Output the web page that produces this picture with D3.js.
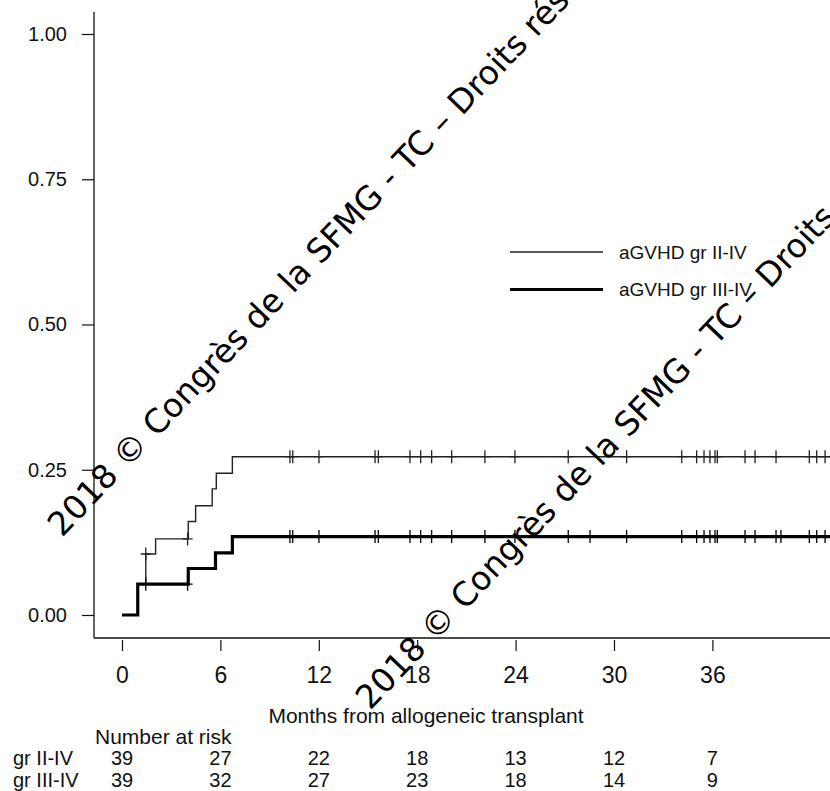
<!DOCTYPE html>
<html><head><meta charset="utf-8">
<script src="https://cdn.jsdelivr.net/npm/d3@7/dist/d3.min.js"></script>
<style>
html,body{margin:0;padding:0;background:#fff;}
svg{display:block;}
text{font-family:"Liberation Sans",Arial,sans-serif;fill:#111;}
</style></head>
<body>
<script>
// ---- data ----
const eventTimesII = [0, 0.96, 1.45, 2.05, 4.04, 4.49, 5.5, 5.75, 6.73];
const cifII        = [0, 0.053, 0.105, 0.131, 0.161, 0.188, 0.217, 0.244, 0.2725];
const eventTimesIII = [0, 0.96, 4.04, 5.7, 6.73];
const cifIII        = [0, 0.053, 0.080, 0.107, 0.135];
const censorII  = [1.45, 4.0, 10.24, 10.41, 12.01, 15.43, 15.63, 17.56, 18.21, 18.88, 20.1, 22.13, 23.96, 27.21, 30.77, 34.13, 35.04, 35.49, 35.85, 36.16, 36.3, 37.99, 38.6, 39.88, 41.91, 42.36, 42.87];
const censorIII = [1.45, 4.0, 10.24, 10.41, 12.01, 15.43, 15.63, 17.56, 18.21, 18.88, 20.1, 22.13, 23.96, 27.21, 28.54, 30.77, 34.13, 35.04, 35.49, 35.85, 36.16, 36.3, 37.99, 38.6, 39.88, 40.18, 41.91, 42.36, 42.87];
const lastFollowUp = 44;
const xTicks = [0, 6, 12, 18, 24, 30, 36];
const yTicks = [0, 0.25, 0.5, 0.75, 1];
const riskTimes = [0, 6, 12, 18, 24, 30, 36];
const riskII  = [39, 27, 22, 18, 13, 12, 7];
const riskIII = [39, 32, 27, 23, 18, 14, 9];
const seriesNames = ["aGVHD gr II-IV", "aGVHD gr III-IV"];
const riskLabels = ["gr II-IV", "gr III-IV"];
const watermark = "2018 \u00A9 Congrès de la SFMG - TC \u2013  Droits réservés";

// ---- layout ----
const W = 830, H = 791;
const svg = d3.select("body").append("svg").attr("width", W).attr("height", H);
const x = d3.scaleLinear().domain([0, 36]).range([122, 712.4]);
const y = d3.scaleLinear().domain([0, 1]).range([615, 34]);
const axisX = 94, axisTop = 12, axisBottom = 638;

// frame (L-shaped)
svg.append("line").attr("x1", axisX).attr("x2", axisX).attr("y1", axisTop).attr("y2", axisBottom)
  .attr("stroke", "#111").attr("stroke-width", 1.3);
svg.append("line").attr("x1", axisX).attr("x2", W + 5).attr("y1", axisBottom).attr("y2", axisBottom)
  .attr("stroke", "#111").attr("stroke-width", 1.3);

// y axis
const gy = svg.append("g").attr("transform", `translate(${axisX},0)`)
  .call(d3.axisLeft(y).tickValues(yTicks).tickFormat(d3.format(".2f")).tickSize(12).tickPadding(15));
gy.select(".domain").remove();
gy.selectAll(".tick line").attr("stroke", "#111").attr("stroke-width", 1.2);
gy.selectAll(".tick text").attr("font-size", 20).attr("font-family", "Liberation Sans, Arial, sans-serif").attr("fill", "#111");

// x axis
const gx = svg.append("g").attr("transform", `translate(0,${axisBottom + 2})`)
  .call(d3.axisBottom(x).tickValues(xTicks).tickFormat(d3.format("d")).tickSize(11).tickPadding(16));
gx.select(".domain").remove();
gx.selectAll(".tick line").attr("stroke", "#111").attr("stroke-width", 1.2);
gx.selectAll(".tick text").attr("font-size", 23).attr("font-family", "Liberation Sans, Arial, sans-serif").attr("fill", "#111");

svg.append("text").attr("x", 426).attr("y", 723).attr("text-anchor", "middle")
  .attr("font-size", 21).text("Months from allogeneic transplant");

// curves
function stepPoints(times, vals) {
  const pts = times.map((t, i) => [t, vals[i]]);
  pts.push([lastFollowUp, vals[vals.length - 1]]);
  return pts;
}
function valueAt(times, vals, t) {
  let v = 0;
  for (let i = 0; i < times.length; i++) if (times[i] <= t) v = vals[i];
  return v;
}
const line = d3.line().x(d => x(d[0])).y(d => y(d[1])).curve(d3.curveStepAfter);
const groups = [
  {times: eventTimesII, vals: cifII, cens: censorII, w: 1.4, col: "#222"},
  {times: eventTimesIII, vals: cifIII, cens: censorIII, w: 3.2, col: "#000"}
];
groups.forEach(g => {
  svg.append("path").attr("d", line(stepPoints(g.times, g.vals)))
    .attr("fill", "none").attr("stroke", g.col).attr("stroke-width", g.w);
  svg.append("g").selectAll("path").data(g.cens).join("path")
    .attr("d", t => {
      const cx = x(t), cy = y(valueAt(g.times, g.vals, t));
      return `M${cx},${cy - 6.5}V${cy + 6.5}M${cx - 5},${cy}H${cx + 5}`;
    })
    .attr("stroke", g.col).attr("stroke-width", 1.3).attr("fill", "none");
});

// legend
const leg = svg.append("g");
seriesNames.forEach((n, i) => {
  const ly = 252 + i * 37.5;
  leg.append("line").attr("x1", 510).attr("x2", 603).attr("y1", ly).attr("y2", ly)
    .attr("stroke", groups[i].col).attr("stroke-width", groups[i].w);
  leg.append("text").attr("x", 619).attr("y", ly + 6.5).attr("font-size", 19).text(n);
});

// risk table
svg.append("text").attr("x", 95).attr("y", 744).attr("font-size", 21).text("Number at risk");
[riskII, riskIII].forEach((row, r) => {
  const ry = 764.5 + r * 22;
  svg.append("text").attr("x", 13).attr("y", ry).attr("font-size", 20).text(riskLabels[r]);
  svg.append("g").selectAll("text").data(row).join("text")
    .attr("x", (d, i) => x(riskTimes[i])).attr("y", ry)
    .attr("text-anchor", "middle").attr("font-size", 20).text(d => d);
});

// watermarks
[[62, 538], [370, 711]].forEach(p => {
  svg.append("text").attr("transform", `translate(${p[0]},${p[1]}) rotate(-46.5)`)
    .style("font-family", "DejaVu Sans, sans-serif").style("font-size", "33px").style("fill", "#000")
    .text(watermark);
});
</script>
</body></html>
